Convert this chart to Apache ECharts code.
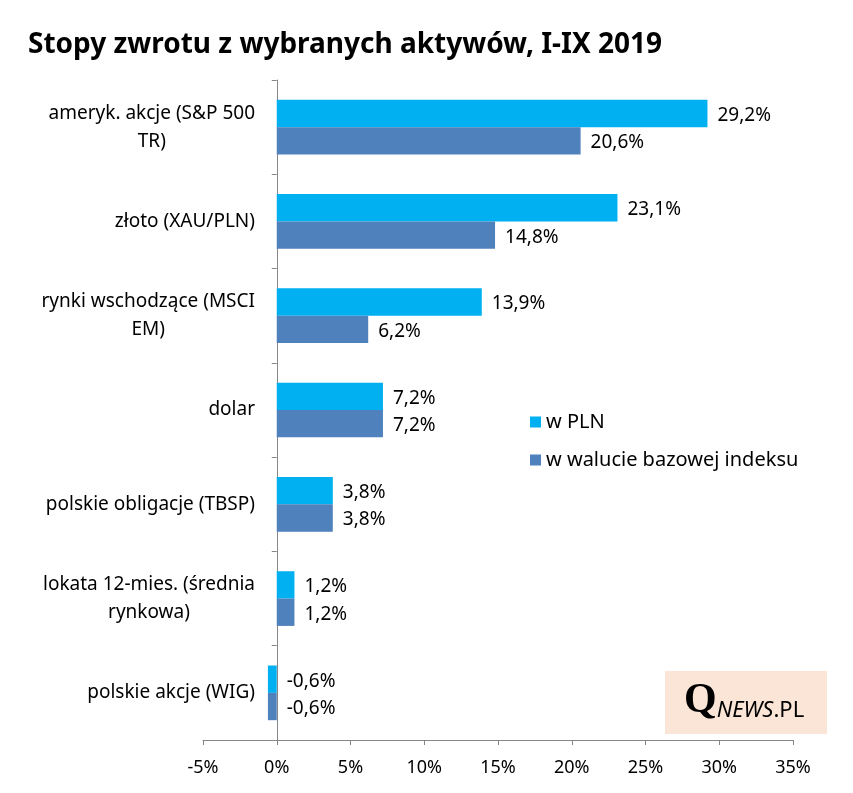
<!DOCTYPE html>
<html><head><meta charset="utf-8">
<script src="https://cdn.jsdelivr.net/npm/echarts@6/dist/echarts.min.js"></script>
<style>html,body{margin:0;padding:0;background:#fff}#c{width:853px;height:793px}</style>
</head><body><div id="c"></div>
<script>
var title = 'Stopy zwrotu z wybranych aktywów, I-IX 2019';
var categories = ['ameryk. akcje (S&P 500\nTR)', 'złoto (XAU/PLN)', 'rynki wschodzące (MSCI\nEM)', 'dolar', 'polskie obligacje (TBSP)', 'lokata 12-mies. (średnia\nrynkowa)', 'polskie akcje (WIG)'];
var seriesNames = ['w PLN', 'w walucie bazowej indeksu'];
var valuesPLN = [29.2, 23.1, 13.9, 7.2, 3.8, 1.2, -0.6];
var valuesBase = [20.6, 14.8, 6.2, 7.2, 3.8, 1.2, -0.6];
var xMin = -5, xMax = 35, xStep = 5;

var FONT = 'Noto Sans';
var chart = echarts.init(document.getElementById('c'));
function fmtPct(v){ return v.toFixed(1).replace('.', ',') + '%'; }
var labelCfg = {show:true, position:'right', distance:10, color:'#000', fontFamily:FONT, fontSize:19,
  offset:[0,2], formatter:function(p){return fmtPct(p.value);}};
chart.setOption({
  animation:false,
  title:{text:title, left:23, top:26, textStyle:{fontFamily:FONT, fontWeight:'bold', fontSize:28, color:'#000'}},
  grid:{left:203, right:60, top:80, bottom:53, containLabel:false},
  legend:{orient:'vertical', left:525, top:407, itemWidth:11, itemHeight:11, itemGap:18,
    textStyle:{fontFamily:FONT, fontSize:20, color:'#000'}, icon:'rect', data:seriesNames},
  xAxis:{type:'value', min:xMin, max:xMax, interval:xStep,
    axisLine:{show:true, lineStyle:{color:'#868686'}},
    axisTick:{show:true, length:5, lineStyle:{color:'#868686'}},
    splitLine:{show:false},
    axisLabel:{margin:19, fontFamily:FONT, fontSize:18, color:'#000', formatter:function(v){return v+'%';}}},
  yAxis:{type:'category', inverse:true, data:categories,
    axisLine:{show:true, onZero:true, lineStyle:{color:'#868686'}},
    axisTick:{show:true, length:5, alignWithLabel:false, lineStyle:{color:'#868686'}},
    axisLabel:{margin:-52, align:'right', fontFamily:FONT, fontSize:19, color:'#000',
      formatter:function(v){return v.split('\n').map(function(s){return '{c|'+s+'}';}).join('\n');},
      rich:{c:{align:'center', fontFamily:FONT, fontSize:19, color:'#000', lineHeight:28}}}},
  series:[
    {name:seriesNames[0], type:'bar', data:valuesPLN, barGap:'0%', barCategoryGap:'42%',
      itemStyle:{color:'#00B0F0'}, label:labelCfg},
    {name:seriesNames[1], type:'bar', data:valuesBase, barGap:'0%', barCategoryGap:'42%',
      itemStyle:{color:'#4F81BD'}, label:labelCfg}
  ],
  graphic:[
    {type:'rect', left:665, top:671, shape:{width:162, height:63}, style:{fill:'#FBE5D6'}, z:1},
    {type:'text', left:684, top:680, z:2, style:{
      text:'{q|Q}{n|NEWS}{p|.PL}',
      rich:{
        q:{fontFamily:'Liberation Serif', fontWeight:'bold', fontSize:42, color:'#000', verticalAlign:'bottom', lineHeight:42},
        n:{fontFamily:FONT, fontStyle:'italic', fontSize:22, color:'#000', verticalAlign:'bottom', lineHeight:34},
        p:{fontFamily:FONT, fontSize:22, color:'#000', verticalAlign:'bottom', lineHeight:34}
      }}}
  ]
});
</script></body></html>
